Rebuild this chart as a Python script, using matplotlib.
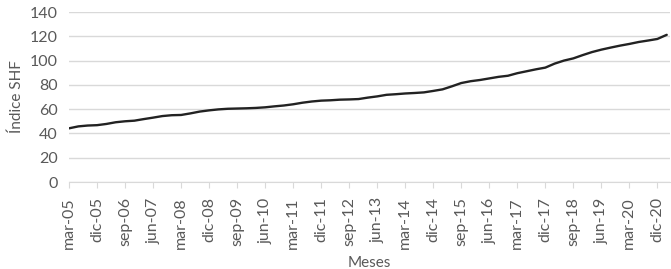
import numpy as np
import matplotlib.pyplot as plt

# Índice SHF trimestral, mar-05 a mar-21
meses_es = ["mar", "jun", "sep", "dic"]
anios = list(range(2005, 2022))
trimestres = [f"{m}-{a % 100:02d}" for a in anios for m in meses_es][:65]

indice_shf = [
    44.2, 45.8, 46.5, 46.8, 47.8, 49.2, 50.0, 50.5, 51.8, 53.0,
    54.3, 55.0, 55.2, 56.5, 58.0, 59.0, 59.8, 60.3, 60.5, 60.7,
    61.0, 61.5, 62.3, 63.0, 64.0, 65.3, 66.3, 67.0, 67.3, 67.8,
    68.0, 68.3, 69.5, 70.5, 71.8, 72.3, 72.9, 73.3, 73.8, 75.0,
    76.3, 78.8, 81.5, 83.0, 84.0, 85.3, 86.6, 87.5, 89.6, 91.2,
    92.8, 94.2, 97.5, 100.0, 101.8, 104.5, 107.0, 109.0, 110.7, 112.3,
    113.7, 115.3, 116.5, 117.8, 121.2,
]

plt.rcParams["font.family"] = ["Lato", "DejaVu Sans"]

fig = plt.figure(figsize=(6.71, 2.69), dpi=100)
ax = fig.add_axes([69 / 671, 1 - 182 / 269, 601 / 671, 170 / 269])

x = np.arange(len(indice_shf))
ax.plot(x, indice_shf, color="#222222", linewidth=1.7, solid_capstyle="round")

ax.set_xlim(0, 64.35)
ax.set_ylim(0, 140)
ax.set_yticks(np.arange(0, 141, 20))
ax.yaxis.grid(True, color="#d9d9d9", linewidth=1)
ax.set_axisbelow(True)

idx = np.arange(0, 64, 3)
ax.set_xticks(idx)
ax.set_xticklabels([trimestres[i] for i in idx], rotation=90)

for s in ["top", "right", "left"]:
    ax.spines[s].set_visible(False)
ax.spines["bottom"].set_color("#d9d9d9")
ax.tick_params(axis="y", length=0, labelsize=11.5, labelcolor="#595959", pad=8)
ax.tick_params(axis="x", length=4, color="#d9d9d9", labelsize=11.5,
               labelcolor="#595959", pad=7)

ax.set_xlabel("Meses", fontsize=11, color="#595959", labelpad=5)
ax.set_ylabel("Índice SHF", fontsize=11, color="#595959", labelpad=4)

fig.savefig("out.png", dpi=100)
